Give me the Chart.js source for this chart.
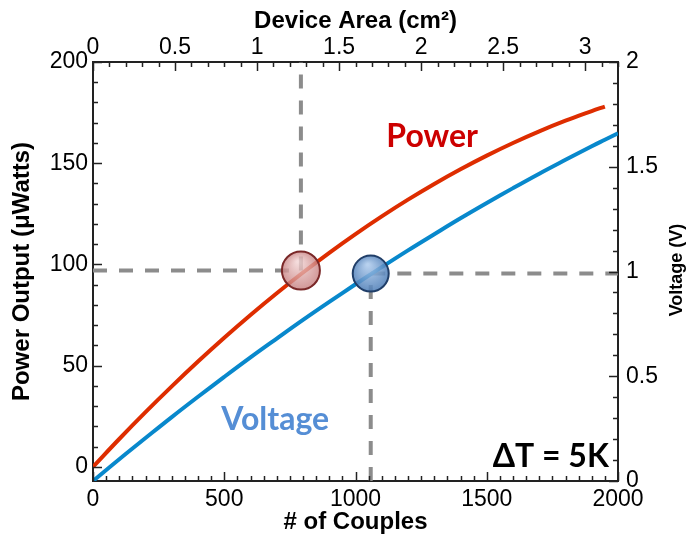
<!DOCTYPE html>
<html>
<head>
<meta charset="utf-8">
<script src="https://cdn.jsdelivr.net/npm/chart.js@4.4.1/dist/chart.umd.min.js"></script>
<style>
    html, body { margin: 0; padding: 0; background: #fff; }
</style>
</head>
<body>
<canvas id="couplesChart" width="688" height="539"></canvas>
<script>
// number of thermocouples along the curves
const couples = [0, 100, 200, 300, 400, 500, 600, 700, 800, 900, 1000, 1100, 1200, 1300, 1400, 1500, 1600, 1700, 1800, 1900, 1950, 2000];
// power output in microwatts (curve stops at 1950)
const powerOut = [0, 13.75, 27, 39.75, 52, 63.75, 75, 85.75, 96, 105.75, 115, 123.75, 132, 139.75, 147, 153.75, 160, 165.75, 171, 175.75, 178, null];
// open circuit voltage in volts
const voltageOut = [0, 0.104, 0.205, 0.305, 0.402, 0.497, 0.590, 0.680, 0.769, 0.855, 0.939, 1.021, 1.101, 1.178, 1.254, 1.327, 1.398, 1.467, 1.533, 1.598, 1.629, 1.66];

// operating points picked out on each curve
const powerPoint = { couples: 792, value: 97 };
const voltagePoint = { couples: 1058, value: 0.99 };

// tick labels
const coupleTicks = [0, 500, 1000, 1500, 2000];
const areaTicks = [0, 0.5, 1, 1.5, 2, 2.5, 3];
const powerTicks = [0, 50, 100, 150, 200];
const voltageTicks = [0, 0.5, 1, 1.5, 2];

const axisFont = "'Liberation Sans', Arial, sans-serif";
const noteFont = "Lato, 'Open Sans', sans-serif";
const redLine = 'rgb(222, 45, 0)';
const blueLine = 'rgb(8, 136, 204)';
const guideGray = 'rgb(140, 140, 140)';

function toPoints(xs, ys) {
    return xs.map((x, i) => ({ x: x, y: ys[i] })).filter(p => p.y !== null);
}

function fixedTicks(values) {
    return function (scale) {
        scale.ticks = values.map(v => ({ value: v }));
    };
}

// glassy fill for the marker bubbles
function bubbleFill(light, dark, yAxis) {
    return function (ctx) {
        const chart = ctx.chart;
        if (!ctx.raw || !chart.scales.x) return dark;
        const x = chart.scales.x.getPixelForValue(ctx.raw.x);
        const y = chart.scales[yAxis].getPixelForValue(ctx.raw.y);
        if (!isFinite(x) || !isFinite(y)) return dark;
        const g = chart.ctx.createRadialGradient(x - 3, y - 9, 1, x, y, 20);
        g.addColorStop(0, light);
        g.addColorStop(1, dark);
        return g;
    };
}

// inward major/minor tick marks on all four sides
const insideTicks = {
    id: 'insideTicks',
    afterDatasetsDraw(chart) {
        const ctx = chart.ctx;
        const area = chart.chartArea;
        const sides = [
            { id: 'x', step: 50, major: 500, from: 0, to: 2000 },
            { id: 'x2', step: 0.1, major: 0.5, from: 0, to: 3.2 },
            { id: 'y', step: 10, major: 50, from: 0, to: 200 },
            { id: 'y1', step: 0.1, major: 0.5, from: 0, to: 2 }
        ];
        ctx.save();
        ctx.strokeStyle = '#222';
        ctx.lineWidth = 1.5;
        sides.forEach(side => {
            const scale = chart.scales[side.id];
            const n = Math.round((side.to - side.from) / side.step);
            for (let i = 0; i <= n; i++) {
                const v = side.from + i * side.step;
                const ratio = v / side.major;
                const isMajor = Math.abs(ratio - Math.round(ratio)) < 1e-6;
                const len = isMajor ? 9 : 5;
                const p = Math.round(scale.getPixelForValue(v)) + 0.5;
                ctx.beginPath();
                if (side.id === 'x') { ctx.moveTo(p, area.bottom); ctx.lineTo(p, area.bottom - len); }
                if (side.id === 'x2') { ctx.moveTo(p, area.top); ctx.lineTo(p, area.top + len); }
                if (side.id === 'y') { ctx.moveTo(area.left, p); ctx.lineTo(area.left + len, p); }
                if (side.id === 'y1') { ctx.moveTo(area.right, p); ctx.lineTo(area.right - len, p); }
                ctx.stroke();
            }
        });
        ctx.restore();
    }
};

// curve names, temperature note and the right axis title
const chartNotes = {
    id: 'chartNotes',
    afterDraw(chart) {
        const ctx = chart.ctx;
        const x = chart.scales.x;
        const y = chart.scales.y;
        ctx.save();
        ctx.textAlign = 'center';
        ctx.textBaseline = 'alphabetic';
        ctx.font = `bold 32px ${noteFont}`;
        ctx.fillStyle = 'rgb(204, 0, 0)';
        ctx.fillText('Power', x.getPixelForValue(1292), y.getPixelForValue(158));
        ctx.fillStyle = 'rgb(85, 142, 213)';
        ctx.fillText('Voltage', x.getPixelForValue(694), y.getPixelForValue(18));
        ctx.fillStyle = '#000';
        ctx.fillText('\u0394T = 5K', x.getPixelForValue(1744), y.getPixelForValue(0));

        ctx.translate(677, 270);
        ctx.rotate(-Math.PI / 2);
        ctx.textBaseline = 'middle';
        ctx.font = `bold 18px ${axisFont}`;
        ctx.fillText('Voltage (V)', 0, 0);
        ctx.restore();
    }
};

const tickStyle = {
    font: { family: axisFont, size: 23 },
    color: '#000',
    maxRotation: 0,
    autoSkip: false,
    callback: v => String(v)
};
const titleFont = { family: axisFont, size: 24, weight: 'bold' };
const axisBorder = { display: true, color: '#222', width: 2 };

const config = {
    type: 'line',
    data: {
        datasets: [
            {
                label: 'Power point',
                type: 'scatter',
                data: [{ x: powerPoint.couples, y: powerPoint.value }],
                yAxisID: 'y',
                pointRadius: 19,
                pointBorderWidth: 2,
                pointBorderColor: 'rgb(122, 40, 40)',
                pointBackgroundColor: bubbleFill('rgba(242, 212, 212, 0.8)', 'rgba(196, 122, 122, 0.8)', 'y'),
                order: 0
            },
            {
                label: 'Voltage point',
                type: 'scatter',
                data: [{ x: voltagePoint.couples, y: voltagePoint.value }],
                yAxisID: 'y1',
                pointRadius: 18,
                pointBorderWidth: 2,
                pointBorderColor: 'rgb(32, 62, 104)',
                pointBackgroundColor: bubbleFill('rgba(170, 200, 235, 0.85)', 'rgba(68, 118, 178, 0.85)', 'y1'),
                order: 0
            },
            {
                label: 'Power',
                data: toPoints(couples, powerOut),
                yAxisID: 'y',
                borderColor: redLine,
                borderWidth: 4,
                pointRadius: 0,
                tension: 0.4,
                order: 1
            },
            {
                label: 'Voltage',
                data: toPoints(couples, voltageOut),
                yAxisID: 'y1',
                borderColor: blueLine,
                borderWidth: 4,
                pointRadius: 0,
                tension: 0.4,
                order: 1
            },
            {
                label: 'Power guide',
                data: [{ x: 0, y: powerPoint.value }, { x: powerPoint.couples, y: powerPoint.value }, { x: powerPoint.couples, y: 200 }],
                yAxisID: 'y',
                borderColor: guideGray,
                borderWidth: 4,
                borderDash: [14, 12],
                pointRadius: 0,
                order: 2
            },
            {
                label: 'Voltage guide',
                data: [{ x: voltagePoint.couples, y: 0 }, { x: voltagePoint.couples, y: voltagePoint.value }, { x: 2000, y: voltagePoint.value }],
                yAxisID: 'y1',
                borderColor: guideGray,
                borderWidth: 4,
                borderDash: [14, 12],
                pointRadius: 0,
                order: 2
            }
        ]
    },
    plugins: [insideTicks, chartNotes],
    options: {
        responsive: false,
        animation: false,
        devicePixelRatio: 1,
        layout: { padding: 0 },
        plugins: {
            legend: { display: false },
            tooltip: { enabled: false }
        },
        scales: {
            x: {
                type: 'linear',
                position: 'bottom',
                min: 0,
                max: 2000,
                afterBuildTicks: fixedTicks(coupleTicks),
                afterFit: s => { s.height = 58; },
                grid: { display: false, drawTicks: false },
                border: axisBorder,
                ticks: Object.assign({ padding: 5 }, tickStyle),
                title: { display: true, text: '# of Couples', font: titleFont, color: '#000', padding: { top: 0, bottom: 2 } }
            },
            x2: {
                type: 'linear',
                axis: 'x',
                position: 'top',
                min: 0,
                max: 3.2,
                afterBuildTicks: fixedTicks(areaTicks),
                afterFit: s => { s.height = 62; },
                grid: { display: false, drawTicks: false },
                border: axisBorder,
                ticks: Object.assign({ padding: 1 }, tickStyle),
                title: { display: true, text: 'Device Area (cm\u00B2)', font: titleFont, color: '#000', padding: { top: 7, bottom: 0 } }
            },
            y: {
                type: 'linear',
                position: 'left',
                min: -7,
                max: 200,
                afterBuildTicks: fixedTicks(powerTicks),
                afterFit: s => { s.width = 93; },
                grid: { display: false, drawTicks: false },
                border: axisBorder,
                ticks: Object.assign({ padding: 5 }, tickStyle),
                title: { display: true, text: 'Power Output (\u03BCWatts)', font: titleFont, color: '#000', padding: { top: 8, bottom: 0 } }
            },
            y1: {
                type: 'linear',
                position: 'right',
                min: 0,
                max: 2,
                afterBuildTicks: fixedTicks(voltageTicks),
                afterFit: s => { s.width = 70; },
                grid: { display: false, drawTicks: false },
                border: axisBorder,
                ticks: Object.assign({ padding: 8 }, tickStyle)
            }
        }
    }
};

new Chart(document.getElementById('couplesChart'), config);
</script>
</body>
</html>
